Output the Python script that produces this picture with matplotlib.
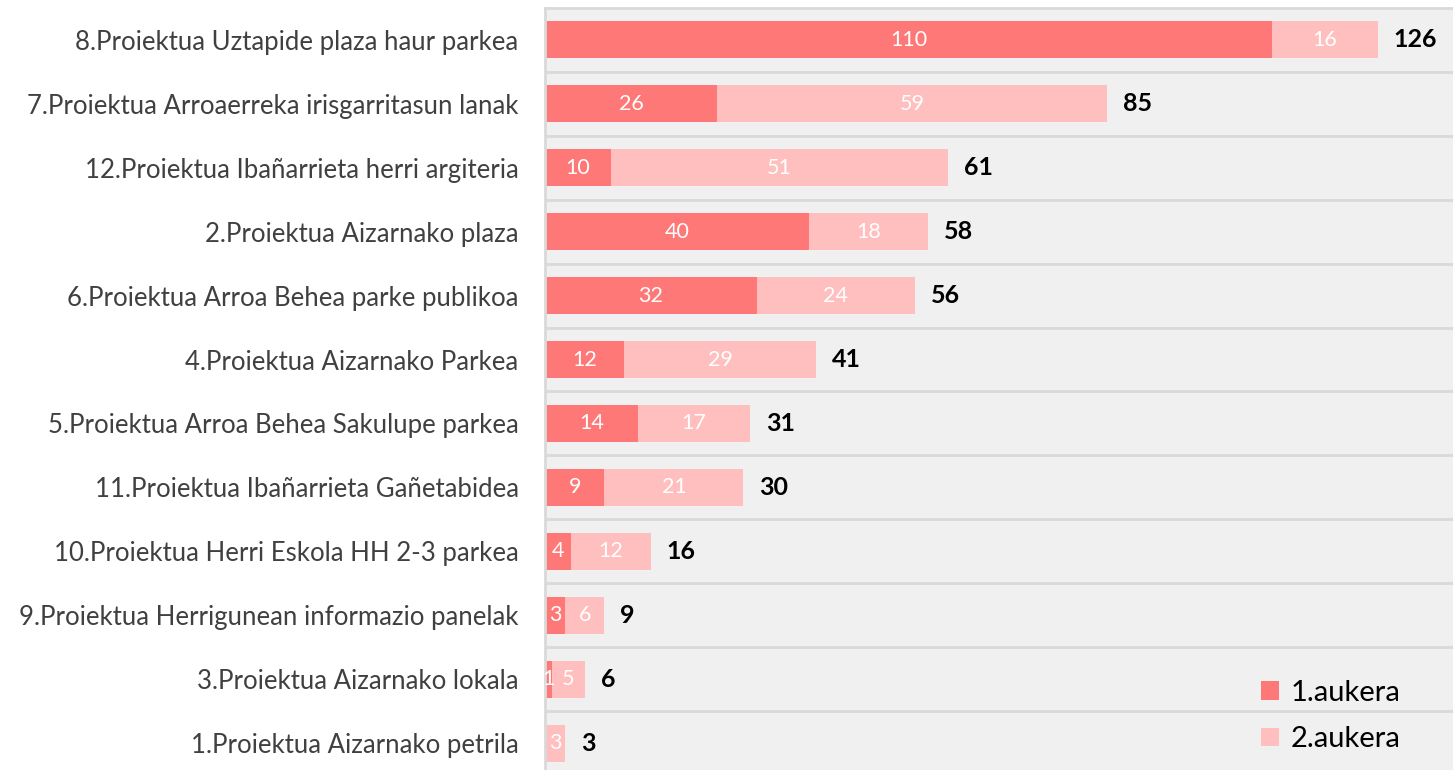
import matplotlib.pyplot as plt
import numpy as np

# === Data (top to bottom)
projects = [
    "8.Proiektua Uztapide plaza haur parkea",
    "7.Proiektua Arroaerreka irisgarritasun lanak",
    "12.Proiektua Ibañarrieta herri argiteria",
    "2.Proiektua Aizarnako plaza",
    "6.Proiektua Arroa Behea parke publikoa",
    "4.Proiektua Aizarnako Parkea",
    "5.Proiektua Arroa Behea Sakulupe parkea",
    "11.Proiektua Ibañarrieta Gañetabidea",
    "10.Proiektua Herri Eskola HH 2-3 parkea",
    "9.Proiektua Herrigunean informazio panelak",
    "3.Proiektua Aizarnako lokala",
    "1.Proiektua Aizarnako petrila",
]
aukera1 = [110, 26, 10, 40, 32, 12, 14, 9, 4, 3, 1, 0]
aukera2 = [16, 59, 51, 18, 24, 29, 17, 21, 12, 6, 5, 3]
totals = [126, 85, 61, 58, 56, 41, 31, 30, 16, 9, 6, 3]

plt.rcParams['font.family'] = ['Lato', 'DejaVu Sans']

c1 = "#FF7878"
c2 = "#FFBFBF"

fig = plt.figure(figsize=(14.53, 7.70), dpi=100)
ax = fig.add_axes([545 / 1453, -5 / 770, 908 / 1453, 767 / 770])
ax.set_facecolor("#F0F0F0")

y = np.arange(len(projects))
h = 0.58
ax.barh(y, aukera1, height=h, color=c1, label="1.aukera")
ax.barh(y, aukera2, left=aukera1, height=h, color=c2, label="2.aukera")

# === Value labels
for i in range(len(projects)):
    if aukera1[i] > 0:
        ax.text(aukera1[i] / 2, y[i], str(aukera1[i]), ha='center', va='center',
                color='white', fontsize=15.5)
    if aukera2[i] > 0:
        ax.text(aukera1[i] + aukera2[i] / 2, y[i], str(aukera2[i]), ha='center',
                va='center', color='white', fontsize=15.5)
    ax.text(totals[i] + 2.4, y[i], str(totals[i]), ha='left', va='center',
            fontsize=18, fontweight='bold', color='black')

ax.set_xlim(0, 908 / 6.61)
ax.set_ylim(len(projects) - 0.5, -0.5)
ax.set_yticks(y)
ax.set_yticklabels(projects, fontsize=18.5, color='#404040')
ax.tick_params(axis='y', length=0, pad=19)
ax.set_xticks([])

# === Row separators
for b in np.arange(0.5, len(projects) - 0.5, 1):
    ax.axhline(b, color='#D9D9D9', lw=2, zorder=0)

for s in ['right', 'bottom']:
    ax.spines[s].set_visible(False)
for s in ['left', 'top']:
    ax.spines[s].set_color('#D9D9D9')
    ax.spines[s].set_linewidth(2)

ax.legend(loc='lower right', bbox_to_anchor=(1412 / 1453, 6 / 770),
          bbox_transform=fig.transFigure, frameon=False,
          fontsize=21, handlelength=0.6, handleheight=0.6, handletextpad=0.4,
          labelspacing=0.7, borderaxespad=0)

plt.savefig("out.png", dpi=100)
